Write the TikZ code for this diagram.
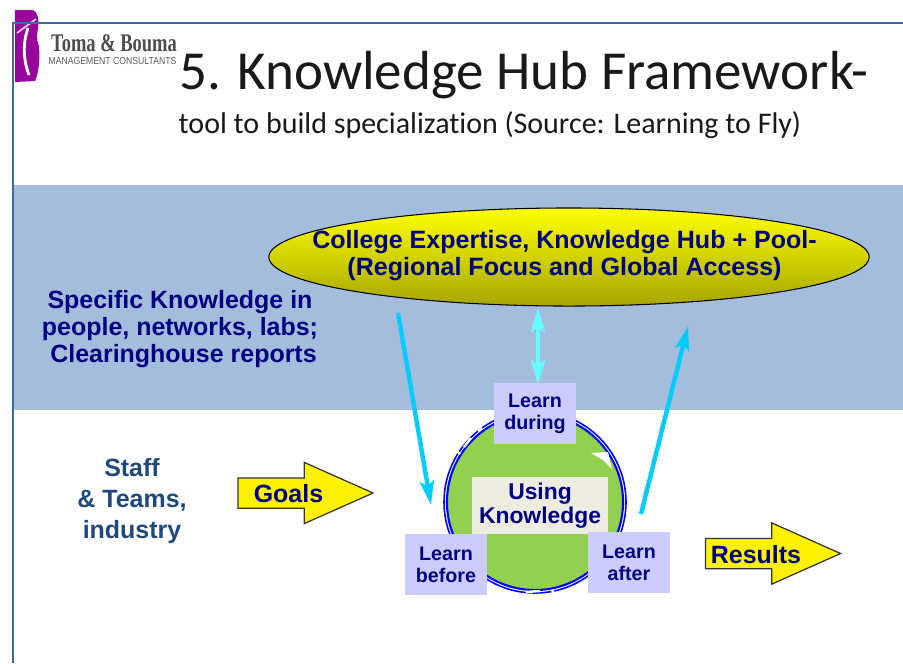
\documentclass[tikz,border=0pt]{standalone}
\usepackage{fontspec}
\usepackage{tikz}
\setmainfont{Liberation Sans}
\newfontfamily\titlefont[Ligatures=NoCommon]{Carlito}
\newfontfamily\logofont{Liberation Serif}
\usetikzlibrary{positioning, arrows.meta, shapes}
\definecolor{bandblue}{HTML}{A5BDDC}
\definecolor{rulerblue}{HTML}{3F6AA0}
\definecolor{boxlilac}{HTML}{CCCCFF}
\definecolor{boxcream}{HTML}{EEECE1}
\definecolor{ringgreen}{HTML}{92D050}
\definecolor{deepnavy}{HTML}{000080}
\definecolor{staffblue}{HTML}{1F497D}
\definecolor{arrowcyan}{HTML}{00CCFF}
\definecolor{paleCyan}{HTML}{66FFFF}
\definecolor{logopurple}{HTML}{99069B}
\tikzset{
  learnbox/.style={fill=boxlilac, text=deepnavy, font=\fontsize{5.6}{6.2}\selectfont\bfseries, align=center, minimum width=0.82cm, minimum height=0.61cm, inner sep=0pt},
  bigarrow/.style={single arrow, draw=black!80, line width=0.35pt, fill=yellow, inner sep=0pt, text height=0.29cm, text depth=0pt, text width=0pt, single arrow head extend=0.155cm, single arrow tip angle=48, minimum height=1.35cm, minimum width=0.6cm},
  bandtext/.style={text=deepnavy, font=\fontsize{7.1}{7.7}\selectfont\bfseries, align=center, inner sep=0pt},
  cyanline/.style={draw=arrowcyan, line width=1.25pt, -{Stealth[length=0.24cm, width=0.14cm, inset=0.05cm]}},
  ringgap/.style={draw=white, line width=0.7pt}
}
\begin{document}
\begin{tikzpicture}[x=0.01cm, y=-0.01cm]
  \useasboundingbox (0, 0) rectangle (903, 663);
  \fill[white] (0, 0) rectangle (903, 663);

  % band and frame
  \fill[bandblue] (13, 185) rectangle (903, 410);
  \fill[logopurple] (15, 10) -- (33, 10) .. controls (38, 12) and (39, 20) .. (38, 28) .. controls (37, 36) and (36, 38) .. (39, 46) .. controls (40, 60) and (39, 72) .. (35, 81) -- (15, 82) -- cycle;
  \draw[white, line width=0.8pt] (28, 28) .. controls (22, 45) and (24, 62) .. (29, 75);
  \draw[white!80!logopurple, line width=0.5pt] (17, 33) -- (36, 19);
  \draw[rulerblue, line width=0.4pt] (13, 663) -- (13, 23) -- (903, 23);

  % logo and titles
  \node[inner sep=0pt, font=\logofont\bfseries\fontsize{7.2}{8}\selectfont, text=black!70, xscale=0.73] (logoname) at (114, 43) {Toma \& Bouma};
  \node[inner sep=0pt, font=\fontsize{2.9}{3}\selectfont, text=black!65, xscale=0.85] (logosub) at (112.5, 61) {MANAGEMENT CONSULTANTS};
  \node[inner sep=0pt, font=\titlefont\fontsize{15.65}{16}\selectfont, text=black!90] (title) at (524, 75) {5. Knowledge Hub Framework-};
  \node[inner sep=0pt, font=\titlefont\fontsize{8.53}{9}\selectfont, text=black!90] (subtitle) at (490, 125) {tool to build specialization (Source: Learning to Fly)};

  % top ellipse
  \node[ellipse, draw=black, line width=0.3pt, top color=yellow, bottom color=yellow!65!black, minimum width=6cm, minimum height=0.98cm, inner sep=0pt] (hub) at (569, 257) {};
  \node[bandtext, font=\fontsize{7.12}{7.7}\selectfont\bfseries] (hubtext) at (564.5, 256) {College Expertise, Knowledge Hub + Pool-\\(Regional Focus and Global Access)};
  \node[bandtext] (specific) at (180, 329) {Specific Knowledge in\\people, networks, labs;\\\hspace*{0.7mm}Clearinghouse reports};
  \node[bandtext, text=staffblue, font=\fontsize{7.1}{8.7}\selectfont\bfseries] (staff) at (132, 501) {Staff\\\& Teams,\\industry};

  % ring
  \node[circle, fill=ringgreen, draw=blue, line width=0.6pt, minimum size=1.76cm, inner sep=0pt] (ring) at (535, 502) {};
  \draw[blue, line width=0.45pt] (ring.center) circle (91);
  \fill[white] (591, 453) -- (608, 452) -- (612, 469) -- (603, 460) -- cycle;
  \draw[ringgap] (478, 431) -- (482, 428);
  \draw[ringgap] (471, 438) -- (464, 447);
  \draw[ringgap] (456, 450) -- (460, 454);
  \draw[ringgap] (526, 592) -- (540, 591);
  \draw[ringgap] (552, 590) -- (555, 595);

  % upper connector stops on its box
  \coordinate (duringstart) at (538, 308);
  \coordinate (duringend) at (538, 384);
  \draw[cyanline, draw=paleCyan, {Stealth[length=0.24cm, width=0.14cm, inset=0.05cm]}-{Stealth[length=0.24cm, width=0.14cm, inset=0.05cm]}] (duringstart) -- (duringend);

  % boxes
  \node[learnbox] (during) at (535, 413.5) {Learn\\during};
  \node[learnbox, minimum width=1.36cm, minimum height=0.57cm, fill=boxcream, font=\fontsize{6.5}{7}\selectfont\bfseries] (using) at (540, 505.5) {Using\\Knowledge};
  \node[learnbox] (before) at (446, 564.5) {Learn\\before};
  \node[learnbox] (after) at (629, 562.5) {Learn\\after};

  % yellow arrows
  \node[bigarrow] (goals) at (288.5, 493) {};
  \node[bandtext] (goalstext) at (288.5, 494) {Goals};
  \node[bigarrow] (results) at (756, 553.5) {};
  \node[bandtext] (resultstext) at (756, 555) {Results};

  % connectors
  \coordinate (beforestart) at (398, 313);
  \coordinate (beforeend) at (431, 505);
  \coordinate (afterstart) at (641, 514);
  \coordinate (afterend) at (688, 326);
  \draw[cyanline] (beforestart) -- (beforeend);
  \draw[cyanline] (afterstart) -- (afterend);
\end{tikzpicture}
\end{document}
